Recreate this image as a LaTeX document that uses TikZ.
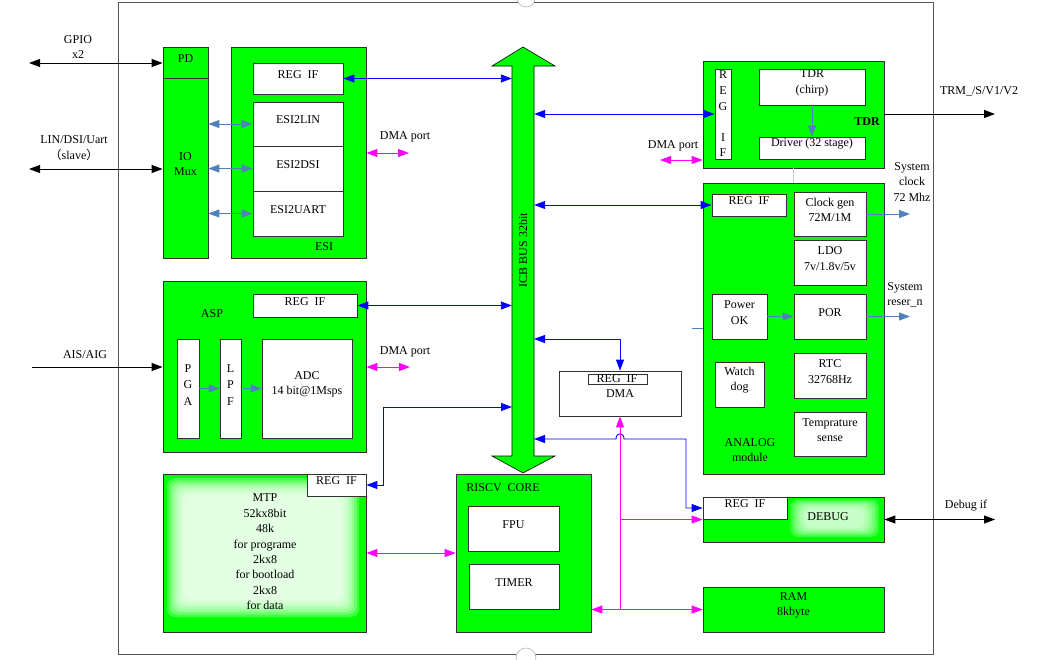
\documentclass[tikz,border=0pt]{standalone}
\usepackage{fontspec}
\setmainfont{Liberation Serif}
\newfontfamily\cjk{Noto Sans CJK SC}
\usetikzlibrary{arrows.meta,fit}
\definecolor{chipgreen}{RGB}{0,255,0}
\definecolor{sblue}{RGB}{79,129,189}
\definecolor{pblue}{RGB}{0,0,255}
\definecolor{pmag}{RGB}{255,0,255}
\definecolor{boxline}{RGB}{50,50,50}
\definecolor{framecol}{RGB}{85,85,85}
\tikzset{
  every node/.style={font=\fontsize{12}{15.5}\selectfont, align=center, inner sep=0pt},
  box/.style={draw=boxline, line width=0.8pt, fill=white},
  gbox/.style={draw=boxline, line width=0.8pt, fill=chipgreen},
  barrow/.style={draw=pblue, line width=0.9pt, <->},
  sarrow/.style={draw=sblue, line width=1pt},
  marrow/.style={draw=pmag, line width=1pt},
  karrow/.style={draw=black, line width=1pt},
  glow/.style={fill=white, opacity=0.25, rounded corners=8pt},
}
\begin{document}
\begin{tikzpicture}[x=1pt,y=-1pt, >={Triangle[length=11pt,width=8pt]}]
\useasboundingbox (0,0) rectangle (1039,659);
\fill[white] (0,0) rectangle (1039,659);
% outer frame
\draw[framecol, line width=1pt] (118,2) rectangle (933,654);
\draw[gray!60, fill=white, line width=0.6pt] (526,-2) circle (9);
\draw[gray!60, fill=white, line width=0.6pt] (526,658) circle (10);

% ---------- left column ----------
\node[gbox, fit={(163,47)(208,78)}] (pd) {PD};
\node[gbox, fit={(163,78)(208,258)}] (iomux) {IO\\Mux};
\node[gbox, fit={(231,47)(366,258)}] (esi) {};
\node (esilabel) at (324,247) {ESI};
\node[box, fit={(253,63)(343,94)}] (esireg) {REG~~IF};
\node[box, fit={(253,102)(343,146)}] (esilin) {ESI2LIN};
\node[box, fit={(253,146)(343,191)}] (esidsi) {ESI2DSI};
\node[box, fit={(253,191)(343,236)}] (esiuart) {ESI2UART};

\node[gbox, fit={(163,281)(366,452)}] (asp) {};
\node (asplabel) at (212,314) {ASP};
\node[box, fit={(253,294)(357,317)}] (aspreg) {REG~~IF};
\node[box, fit={(177,339)(199,438)}, font=\fontsize{12}{16.5}\selectfont] (pga) {P\\G\\A};
\node[box, fit={(220,339)(241,438)}, font=\fontsize{12}{16.5}\selectfont] (lpf) {L\\P\\F};
\node[box, fit={(262,339)(352,438)}] (adc) {ADC\\14 bit@1Msps};

\node[gbox, fit={(163,474)(366,632)}] (mtp) {};
\foreach \i in {0,...,7} {
  \fill[glow] ({167+2.5*\i},{478+2.5*\i}) rectangle ({359-2.5*\i},{617-2.5*\i});
}
\node[font=\fontsize{12}{15.4}\selectfont] (mtptext) at (265,552) {MTP\\52kx8bit\\48k\\for programe\\2kx8\\for bootload\\2kx8\\for data};
\node[box, fit={(307,474)(366,496)}] (mtpreg) {REG~~IF};

% ---------- bus ----------
\filldraw[fill=chipgreen, draw=black, line width=0.6pt]
  (512,456) -- (512,66) -- (492,66) -- (523,47) -- (555,66) -- (534,66)
  -- (534,456) -- (555,456) -- (523,473) -- (492,456) -- cycle;
\node[fit={(512,66)(534,456)}] (bus) {};
\node[rotate=90] (buslabel) at (523,250) {ICB BUS 32bit};

% ---------- RISCV ----------
\node[gbox, fit={(456,474)(591,632)}] (riscv) {};
\node (riscvlabel) at (503,488) {RISCV~~CORE};
\node[box, fit={(468,506)(559,551)}] (fpu) {FPU};
\node[box, fit={(469,564)(559,609)}] (timer) {TIMER};

% ---------- DMA ----------
\node[box, fit={(559,371)(681,416)}] (dma) {};
\node[box, fit={(588,374)(647,384)}] (dmareg) {};
\node (dmaregtext) at (617,379) {REG~~IF};
\node (dmatext) at (620,394) {DMA};

% ---------- TDR ----------
\node[gbox, fit={(703,61)(884,168)}] (tdr) {};
\node[box, fit={(715,69)(731,159)}] (tdrreg) {};
\node[font=\fontsize{12}{15.6}\selectfont] (tdrregtext) at (723,114) {R\\E\\G\\~\\I\\F};
\node[box, fit={(759,69)(865,105)}] (chirp) {TDR\\(chirp)};
\node[box, fit={(759,137)(865,159)}] (driver) {Driver (32 stage)};
\node[font=\fontsize{12}{15}\selectfont\bfseries] (tdrlabel) at (867,122) {TDR};

% ---------- ANALOG ----------
\node[gbox, fit={(703,183)(884,474)}] (ana) {};
\node[box, fit={(712,194)(786,216)}] (anareg) {REG~~IF};
\node[box, fit={(794,192)(866,236)}] (clk) {Clock gen\\72M/1M};
\node[box, fit={(794,240)(866,285)}] (ldo) {LDO\\7v/1.8v/5v};
\node[box, fit={(712,294)(767,339)}] (pwrok) {Power\\OK};
\node[box, fit={(794,294)(866,339)}] (por) {POR};
\node[box, fit={(715,362)(764,407)}] (wdog) {Watch\\dog};
\node[box, fit={(794,353)(866,398)}] (rtc) {RTC\\32768Hz};
\node[box, fit={(794,412)(866,456)}] (temp) {Temprature\\sense};
\node (analabel) at (750,450) {ANALOG\\module};

% ---------- DEBUG / RAM ----------
\node[gbox, fit={(703,497)(884,542)}] (debug) {};
\foreach \i in {0,...,6} {
  \fill[glow, opacity=0.2] ({790+2.5*\i},{499+1.6*\i}) rectangle ({879-2.5*\i},{537-1.6*\i});
}
\node (debuglabel) at (828,517) {DEBUG};
\node[box, fit={(703,497)(787,519)}] (dbgreg) {REG~~IF};
\node[gbox, fit={(703,587)(884,632)}] (ram) {RAM\\8kbyte};

% ---------- outside labels ----------
\node (gpiolabel) at (78,47) {GPIO\\x2};
\node (linlabel) at (74,148) {LIN/DSI/Uart\\{\cjk （}slave{\cjk ）}};
\node (aislabel) at (85,355) {AIS/AIG};
\node (dmap1) at (405,137) {DMA port};
\node (dmap2) at (673,146) {DMA port};
\node (dmap3) at (405,352) {DMA port};
\node (trmlabel) at (979,91) {TRM\_/S/V1/V2};
\node (clklabel) at (912,182) {System\\clock\\72 Mhz};
\node (rstlabel) at (905,295) {System\\reser\_n};
\node (dbglabel) at (966,506) {Debug if};

% ---------- connectors ----------
% bus (blue)
\draw[barrow] (esireg.east) -- (esireg.east -| bus.west);
\draw[barrow] (tdrreg.west -| bus.east) -- (tdrreg.west);
\draw[barrow] (anareg.west -| bus.east) -- (anareg.west);
\draw[barrow] (aspreg.east) -- (aspreg.east -| bus.west);
\coordinate (busmtp) at (512,407);
\draw[barrow] (mtpreg.east) -- ++(17,0) |- (busmtp);
\coordinate (busdma) at (534,339);
\draw[barrow] (busdma) -| (dma.north);
\coordinate (busdbg) at (534,439);
\draw[barrow] (busdbg) -- (616,439) .. controls (616,432) and (624,432) .. (624,439) -- (686,439) |- (dbgreg.west);

% magenta
\draw[marrow, <-] (dma.south) -- (dma.south |- ram.west);
\draw[marrow, ->] (dma.south |- debug.west) -- (debug.west);
\draw[marrow, <->] (riscv.east |- ram.west) -- (ram.west);
\draw[marrow, <->] (mtp.east) -- (riscv.west);
\coordinate (dma1) at (409,153);
\draw[marrow, <->] (esi.east |- dma1) -- (dma1);
\coordinate (dma3) at (410,367);
\draw[marrow, <->] (asp.east |- dma3) -- (dma3);
\coordinate (dma2) at (660,160);
\draw[marrow, <->] (dma2) -- (dma2 -| tdr.west);

% steel blue
\draw[sarrow, <->] (iomux.east |- esilin.west) -- (esilin.west);
\draw[sarrow, <->] (iomux.east |- esidsi.west) -- (esidsi.west);
\draw[sarrow, <->] (iomux.east |- esiuart.west) -- (esiuart.west);
\draw[sarrow, ->] (pga.east) -- (lpf.west);
\draw[sarrow, ->] (lpf.east) -- (adc.west);
\draw[sarrow, ->] (chirp.south) -- (driver.north);
\draw[sarrow, ->] (pwrok.east) -- (por.west);
\coordinate (clkout) at (910,214);
\draw[sarrow, ->] (clk.east) -- (clkout);
\coordinate (rstout) at (910,316.5);
\draw[sarrow, ->] (por.east) -- (rstout);
\draw[sblue!40, line width=0.6pt] (tdr.south -| clk.west) -- (ana.north -| clk.west);
\coordinate (anastub) at (692,328);
\draw[sblue, line width=0.8pt] (anastub) -- (anastub -| ana.west);

% black
\coordinate (gpioend) at (29,63);
\draw[karrow, <->] (gpioend) -- (gpioend -| pd.west);
\coordinate (linend) at (29,169);
\draw[karrow, <->] (linend) -- (linend -| iomux.west);
\coordinate (aisend) at (32,367);
\draw[karrow, ->] (aisend) -- (aisend -| asp.west);
\coordinate (trmend) at (995,114);
\draw[karrow, ->] (tdrreg.west -| tdr.east) -- (trmend);
\coordinate (dbgend) at (995,519.5);
\draw[karrow, <->] (debug.east) -- (dbgend);
\end{tikzpicture}
\end{document}
